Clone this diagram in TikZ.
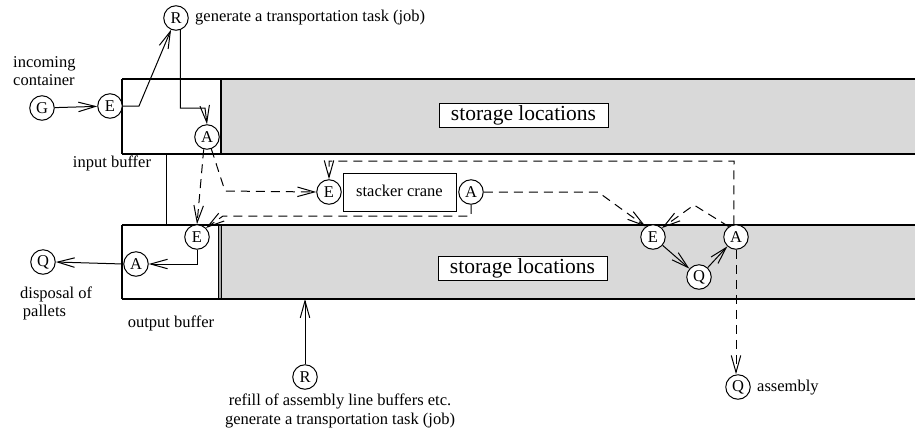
\documentclass[tikz,border=0pt]{standalone}
\usepackage{fontspec}
\setmainfont{Liberation Serif}
\usetikzlibrary{arrows.meta}
\definecolor{bandgray}{RGB}{217,217,217}
\begin{document}
\begin{tikzpicture}[x=1pt,y=-1pt,
  st/.style={circle,draw,fill=white,minimum size=24.5pt,inner sep=0pt,line width=1pt,font=\fontsize{16.5}{19}\selectfont},
  lbl/.style={font=\fontsize{16.5}{18}\selectfont,inner sep=0pt},
  conn/.style={line width=1pt,-{Straight Barb[length=17pt,width=9.5pt]}},
  plain/.style={line width=1pt},
  dsh/.style={conn,dash pattern=on 9pt off 6pt},
  band/.style={line width=1.3pt},
  storebox/.style={draw,fill=white,minimum width=169pt,minimum height=24pt,inner sep=0pt,line width=1pt,font=\fontsize{21.5}{24}\selectfont}]
\useasboundingbox (0,0) rectangle (915,432);

% bands
\fill[bandgray] (221,79) rectangle (915,154);
\fill[bandgray] (221,225) rectangle (915,299);
\fill[gray!70] (218,225) rectangle (221,299);
\draw[band] (122,79) -- (915,79);
\draw[band] (122,154) -- (915,154);
\draw[band] (122,79) -- (122,154);
\draw[band] (221,79) -- (221,154);
\draw[band] (122,225) -- (915,225);
\draw[band] (122,299) -- (915,299);
\draw[band] (122,225) -- (122,299);
\draw[plain] (218,225) -- (218,299);
\draw[plain] (221,225) -- (221,299);
\draw[plain] (166,154) -- (166,225);

\node[storebox] (s1) at (523.5,115) {storage locations};
\node[storebox] (s2) at (522.5,268.5) {storage locations};
\node[draw,fill=white,minimum width=113pt,minimum height=38pt,inner sep=0pt,line width=1pt,font=\fontsize{16.5}{19}\selectfont] (crane) at (399.5,192) {\raisebox{3pt}{stacker crane}};

% state nodes
\node[st] (G) at (42,108) {G};
\node[st] (E1) at (110,106) {E};
\node[st] (R1) at (176,18) {R};
\node[st] (A1) at (207,137) {A};
\node[st] (E2) at (329,192) {E};
\node[st] (A2) at (471,192) {A};
\node[st] (E3) at (653,237) {E};
\node[st] (A3) at (736,237) {A};
\node[st] (Q3) at (699,277) {Q};
\node[st] (E4) at (197,237) {E};
\node[st] (A4) at (136,264) {A};
\node[st] (Q4) at (43,262) {Q};
\node[st] (Q5) at (738,387) {Q};
\node[st] (R5) at (305,377) {R};

% labels
\node[lbl,anchor=west] (t1) at (195,18) {generate a transportation task (job)};
\node[lbl,align=left,anchor=west] (t2) at (13,71.5) {incoming\\container};
\node[lbl] (t3) at (112,163) {input buffer};
\node[lbl,align=left,anchor=west] (t4) at (20,303.5) {disposal of\\\,pallets};
\node[lbl] (t5) at (171,323) {output buffer};
\node[lbl,anchor=west] (t6) at (757,388) {assembly};
\node[lbl,align=center,font=\fontsize{16.5}{19}\selectfont] (t7) at (340,410.5) {refill of assembly line buffers etc.\\generate a transportation task (job)};

% coordinates
\coordinate (e1k) at (139,106);
\coordinate (r1c) at (205,108);
\coordinate (a1k) at (225,191);
\coordinate (a2b) at (471,216);
\coordinate (a2l) at (223,216);
\coordinate (a2r) at (598,192);
\coordinate (top1) at (734,161);
\coordinate (top2) at (329,161);
\coordinate (pk) at (694,205);
\coordinate (r5t) at (305,299);

% solid connectors
\draw[conn] (G) -- (E1);
\draw[conn] (E1.east) -- (e1k) -- (R1);
\draw[conn] (R1.290) |- (r1c) -- (A1.north);
\draw[conn] (E3) -- (Q3);
\draw[conn] (Q3) -- (A3);
\draw[conn] (E4.south) |- (A4.east);
\draw[conn] (A4.west) -- (Q4.east);
\draw[conn] (R5.north) -- (r5t);

% dashed connectors
\draw[dsh] (A1.255) -- (E4.north);
\draw[dsh] (A1.290) -- (a1k) -- (E2.west);
\draw[dsh] (A2.south) -- (a2b) -- (a2l) -- (E4.north east);
\draw[dsh] (A2.east) -- (a2r) -- (E3.125);
\draw[dsh] (A3.100) -- (top1) -- (top2) -- (E2.north);
\draw[dsh] (A3.125) -- (pk) -- (E3.north east);
\draw[dsh] (A3.south) -- (A3.south |- Q5.north);
\end{tikzpicture}
\end{document}
